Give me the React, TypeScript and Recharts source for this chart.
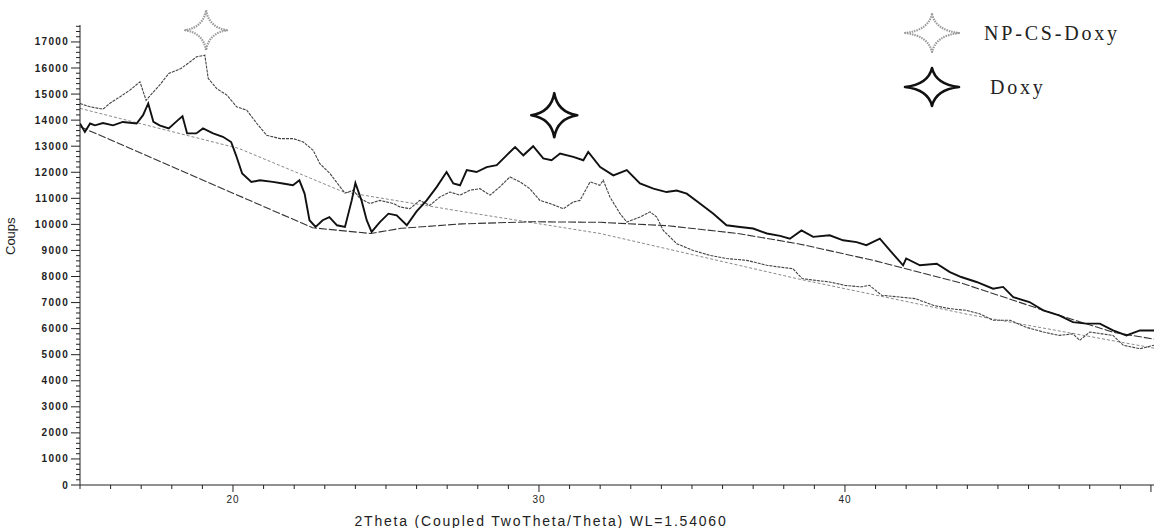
import { LineChart, Line, XAxis, YAxis, ReferenceDot, Legend } from 'recharts';

// NP-CS-Doxy diffractogram (2θ, counts)
const npcsTheta = [
  15.0, 15.33, 15.75, 15.98, 16.3, 16.63, 16.96, 17.16, 17.35, 17.6, 17.9, 18.3, 18.6, 18.81, 19.08,
  19.19, 19.47, 19.8, 20.12, 20.45, 20.78, 21.1, 21.54, 21.97, 22.3, 22.62, 22.84, 23.17, 23.5, 23.66,
  23.93, 24.15, 24.48, 24.8, 25.24, 25.46, 25.78, 26.1, 26.43, 26.76, 27.09, 27.42, 27.74, 28.07, 28.4,
  28.72, 29.05, 29.38, 29.7, 30.03, 30.36, 30.8, 31.12, 31.34, 31.67, 31.99, 32.1, 32.32, 32.65, 32.87,
  33.3, 33.63, 33.85, 34.06, 34.5, 35.04, 35.59, 36.13, 36.79, 37.45, 37.88, 38.3, 38.6, 39.05, 39.5,
  40.0, 40.5, 40.8, 41.2, 41.8, 42.3, 42.9, 43.4, 43.97, 44.4, 44.84, 45.4, 45.9, 46.48, 47.0,
  47.45, 47.67, 48.0, 48.4, 48.76, 49.1, 49.64, 50.1,
];
const npcsCounts = [
  14640, 14510, 14420, 14650, 14890, 15150, 15470, 14760, 15020, 15340, 15790, 15980, 16240, 16430, 16490,
  15600, 15210, 14960, 14510, 14380, 13870, 13420, 13290, 13290, 13160, 12840, 12330, 11950, 11440, 11200,
  11310, 10990, 10800, 10920, 10800, 10670, 10600, 10920, 10730, 11050, 11240, 11120, 11310, 11370, 11120,
  11440, 11820, 11630, 11370, 10920, 10800, 10600, 10860, 10920, 11630, 11500, 11700, 11050, 10410, 10090,
  10280, 10480, 10280, 9770, 9260, 9000, 8810, 8690, 8620, 8430, 8360, 8300, 7920, 7850, 7790,
  7660, 7600, 7660, 7280, 7210, 7150, 6890, 6770, 6700, 6570, 6320, 6320, 6060, 5870, 5740,
  5800, 5550, 5870, 5800, 5740, 5360, 5230, 5360,
];

// Doxy diffractogram (2θ, counts)
const doxyTheta = [
  15.0, 15.16, 15.33, 15.49, 15.75, 16.08, 16.4, 16.85, 17.06, 17.23, 17.4, 17.6, 17.9, 18.2, 18.35,
  18.5, 18.8, 19.02, 19.35, 19.67, 19.94, 20.1, 20.3, 20.6, 20.88, 21.3, 21.63, 21.96, 22.17, 22.34,
  22.5, 22.7, 22.93, 23.15, 23.4, 23.66, 23.88, 24.0, 24.2, 24.37, 24.53, 24.8, 25.08, 25.35, 25.68,
  26.0, 26.33, 26.66, 26.98, 27.2, 27.42, 27.64, 27.96, 28.29, 28.62, 28.94, 29.22, 29.49, 29.81, 30.14,
  30.41, 30.69, 31.12, 31.45, 31.61, 32.0, 32.43, 32.87, 33.3, 33.74, 34.17, 34.5, 34.83, 35.26, 35.7,
  36.13, 36.57, 37.0, 37.45, 37.88, 38.2, 38.58, 38.96, 39.5, 39.94, 40.38, 40.7, 41.14, 41.47, 41.9,
  42.0, 42.45, 43.0, 43.43, 43.8, 44.3, 44.84, 45.17, 45.5, 46.03, 46.48, 47.0, 47.45, 47.89, 48.33,
  48.76, 49.2, 49.64, 50.1,
];
const doxyCounts = [
  13870, 13550, 13870, 13800, 13890, 13800, 13930, 13870, 14190, 14640, 13930, 13800, 13680, 14000, 14150,
  13490, 13490, 13680, 13490, 13360, 13160, 12650, 11950, 11630, 11690, 11630, 11570, 11500, 11690, 11180,
  10160, 9900, 10160, 10280, 9965, 9900, 10920, 11590, 10920, 10160, 9710, 10090, 10410, 10350, 9965,
  10500, 10920, 11440, 12010, 11570, 11500, 12080, 12010, 12200, 12270, 12650, 12970, 12650, 13000, 12530,
  12460, 12720, 12590, 12460, 12780, 12200, 11880, 12080, 11570, 11370, 11240, 11300, 11180, 10800, 10410,
  9965, 9900, 9840, 9650, 9560, 9450, 9770, 9520, 9580, 9390, 9320, 9200, 9450, 9000, 8430,
  8690, 8430, 8490, 8170, 7980, 7790, 7530, 7600, 7210, 7020, 6700, 6510, 6250, 6190, 6190,
  5930, 5740, 5930, 5930,
];

// background fits
const npcsBaseTheta = [15.0, 20.2, 23.6, 27.4, 32.0, 38.5, 44.0, 50.1];
const npcsBaseCounts = [14450, 12910, 11250, 10510, 9650, 7900, 6550, 5250];
const doxyBaseTheta = [15.0, 22.6, 24.5, 25.5, 27.5, 29.8, 32.0, 34.2, 36.5, 38.5, 41.0, 43.8, 46.5, 48.8, 50.1];
const doxyBaseCounts = [13750, 9870, 9650, 9850, 10020, 10100, 10080, 9950, 9650, 9250, 8600, 7750, 6700, 5850, 5600];

const labelledTheta = [20, 30, 40];

const zip = (t: number[], c: number[]) => t.map((v, i) => ({ t: v, c: c[i] }));

const npcs = zip(npcsTheta, npcsCounts);
const doxy = zip(doxyTheta, doxyCounts);
const npcsBase = zip(npcsBaseTheta, npcsBaseCounts);
const doxyBase = zip(doxyBaseTheta, doxyBaseCounts);

const yTicks = Array.from({ length: 89 }, (_, i) => i * 200);
const xTicks = Array.from({ length: 36 }, (_, i) => 15 + i);

const SANS = '"Liberation Sans", Arial, sans-serif';
const SERIF = '"Liberation Serif", "Times New Roman", serif';

function starPath(w: number, h: number) {
  const k = 0.14;
  return `M0,${-h} Q${w * k},${-h * k} ${w},0 Q${w * k},${h * k} 0,${h} Q${-w * k},${h * k} ${-w},0 Q${-w * k},${-h * k} 0,${-h} Z`;
}

function Star({ cx, cy, grey, w = 22, h = 21 }: any) {
  return (
    <path
      d={starPath(w, h)}
      transform={`translate(${cx},${cy})`}
      fill="#fff"
      stroke={grey ? '#9a9a9a' : '#111'}
      strokeWidth={grey ? 2.2 : 2.6}
      strokeDasharray={grey ? '1.5 1' : undefined}
      strokeLinejoin="round"
    />
  );
}

function CountTick({ x, y, payload }: any) {
  const major = payload.value % 1000 === 0;
  return (
    <g>
      <line x1={x} x2={x - (major ? 9 : 4)} y1={y} y2={y} stroke="#222" strokeWidth={1} />
      {major && (
        <text x={x - 11} y={y} dy={3.5} textAnchor="end" fontSize={10} fontWeight="bold" letterSpacing={1.3} fontFamily={SANS} fill="#222">
          {payload.value}
        </text>
      )}
    </g>
  );
}

function ThetaTick({ x, y, payload }: any) {
  const major = payload.value % 10 === 0;
  const labelled = labelledTheta.includes(payload.value);
  return (
    <g>
      <line x1={x} x2={x} y1={y} y2={y + (major ? 7 : 4)} stroke="#222" strokeWidth={1} />
      {labelled && (
        <text x={x} y={y + 18} textAnchor="middle" fontSize={10} letterSpacing={1} fontFamily={SANS} fill="#222">
          {payload.value}
        </text>
      )}
    </g>
  );
}

function StarLegend() {
  const row = (grey: boolean, label: string, textPad: number) => (
    <div style={{ display: 'flex', alignItems: 'center', height: 54 }}>
      <svg width={60} height={46}>
        <Star cx={30} cy={23} grey={grey} w={27} h={19} />
      </svg>
      <span style={{ marginLeft: textPad, fontFamily: SERIF, fontSize: 20, letterSpacing: 2.8, color: '#222' }}>{label}</span>
    </div>
  );
  return (
    <div>
      {row(true, 'NP-CS-Doxy', 22)}
      {row(false, 'Doxy', 28)}
    </div>
  );
}

export default function App() {
  return (
    <div style={{ position: 'absolute', left: 0, top: 0, width: 1154, height: 528, background: '#fff' }}>
      <LineChart width={1154} height={528} margin={{ top: 25, right: 0, bottom: 0, left: 0 }}>
        <XAxis
          type="number"
          dataKey="t"
          domain={[15, 50.1]}
          allowDataOverflow
          ticks={xTicks}
          interval={0}
          tickSize={0}
          tickMargin={0}
          tick={<ThetaTick />}
          height={43}
          stroke="#222"
          label={{ value: '2Theta (Coupled TwoTheta/Theta) WL=1.54060', position: 'insideBottom', offset: 2, dx: -76, fontSize: 14, fontFamily: SANS, fill: '#222', letterSpacing: 1.8 }}
        />
        <YAxis
          type="number"
          domain={[0, 17650]}
          allowDataOverflow
          ticks={yTicks}
          interval={0}
          tickSize={0}
          tickMargin={0}
          tick={<CountTick />}
          width={80}
          stroke="#222"
          label={{ value: 'Coups', angle: -90, position: 'insideLeft', offset: 10, fontSize: 13, fontFamily: SANS, fill: '#222' }}
        />
        <Legend
          layout="horizontal"
          verticalAlign="middle"
          align="center"
          wrapperStyle={{ top: 6, left: 902, width: 250, height: 110 }}
          content={() => <StarLegend />}
        />
        <Line data={npcsBase} dataKey="c" type="linear" stroke="#8a8a8a" strokeWidth={1} strokeDasharray="3 2" dot={false} isAnimationActive={false} legendType="none" />
        <Line data={doxyBase} dataKey="c" type="linear" stroke="#333" strokeWidth={1.1} strokeDasharray="8 2" dot={false} isAnimationActive={false} legendType="none" />
        <Line data={npcs} dataKey="c" name="NP-CS-Doxy" type="linear" stroke="#444" strokeWidth={1.1} strokeDasharray="3 1" dot={false} isAnimationActive={false} />
        <Line data={doxy} dataKey="c" name="Doxy" type="linear" stroke="#111" strokeWidth={1.9} dot={false} isAnimationActive={false} />
        <ReferenceDot x={19.12} y={17450} r={0} ifOverflow="visible" shape={(p: any) => <Star cx={p.cx} cy={p.cy} grey w={21} h={20} />} />
        <ReferenceDot x={30.5} y={14190} r={0} ifOverflow="visible" shape={(p: any) => <Star cx={p.cx} cy={p.cy} w={23} h={22} />} />
      </LineChart>
    </div>
  );
}
